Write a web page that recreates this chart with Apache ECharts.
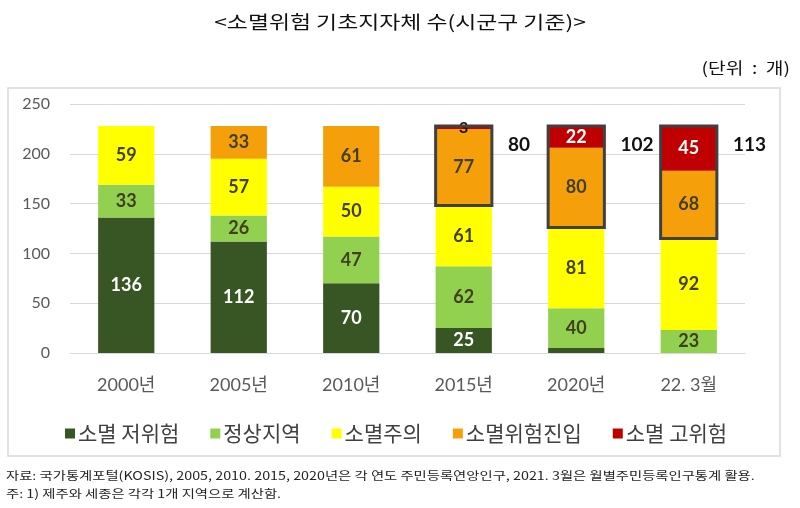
<!DOCTYPE html>
<html><head><meta charset="utf-8">
<script src="https://cdn.jsdelivr.net/npm/echarts@6/dist/echarts.min.js"></script>
<style>html,body{margin:0;padding:0;background:#fff}#c{width:800px;height:508px}</style>
</head><body><div id="c"></div>
<script>
const categories = ['2000년','2005년','2010년','2015년','2020년','22. 3월'];
const lowRisk = [136,112,70,25,5,0];
const normal = [33,26,47,62,40,23];
const caution = [59,57,50,61,81,92];
const riskEntry = [0,33,61,77,80,68];
const highRisk = [0,0,0,3,22,45];
const riskTotal = [null,null,null,80,102,113];
const seriesNames = ['소멸 저위험','정상지역','소멸주의','소멸위험진입','소멸 고위험'];
const colors = ['#375623','#92d050','#ffff00','#f5a00a','#c00000'];
const labelColors = ['#ffffff','#404020','#404020','#404020','#ffffff'];
const yTicks = {min:0,max:250,interval:50};
const titleText = '<소멸위험 기초지자체 수(시군구 기준)>';
const unitText = '(단위  :  개)';
const sourceText = '자료: 국가통계포털(KOSIS), 2005, 2010. 2015, 2020년은 각 연도 주민등록연앙인구, 2021. 3월은 월별주민등록인구통계 활용.';
const noteText = '주: 1) 제주와 세종은 각각 1개 지역으로 계산함.';

const FONT = "Lato, 'Noto Sans CJK KR', sans-serif";
const KFONT = "'Noto Sans CJK KR', sans-serif";
const seriesData = [lowRisk, normal, caution, riskEntry, highRisk];

const series = seriesData.map((d,i)=>({
  name: seriesNames[i], type:'bar', stack:'s', barWidth:'50%',
  itemStyle:{color:colors[i]},
  data: d.map(v=> v===0 ? null : v),
  label:{show:true, position:'inside', fontFamily:FONT, fontWeight:'bold', fontSize:18,
    color: labelColors[i],
    formatter: p => (i===0 && p.value<10) ? '' : String(p.value)}
}));
series[4].data = highRisk.map(v=> v===0 ? null : (v<10 ? {value:v, label:{color:'#111', fontSize:16}} : v));

const boxData = categories.map((c,i)=> riskTotal[i]==null ? null :
  [i, lowRisk[i]+normal[i]+caution[i], lowRisk[i]+normal[i]+caution[i]+riskEntry[i]+highRisk[i], riskTotal[i]]).filter(x=>x);

series.push({
  type:'custom', name:'box', z:10, silent:true,
  renderItem:(params, api)=>{
    const idx = api.value(0);
    const lo = api.coord([idx, api.value(1)]);
    const hi = api.coord([idx, api.value(2)]);
    const w = api.size([1,0])[0]*0.5;
    return {type:'group', children:[
      {type:'rect', shape:{x:lo[0]-w/2, y:hi[1], width:w, height:lo[1]-hi[1]},
       style:{fill:null, stroke:'#404040', lineWidth:3}},
      {type:'text', style:{text:String(api.value(3)), x:lo[0]+w/2+16, y:hi[1]+19,
        fill:'#111', font:"bold 19px "+FONT, textVerticalAlign:'middle'}}
    ]};
  },
  data: boxData
});

const chart = echarts.init(document.getElementById('c'));
chart.setOption({
  animation:false,
  color: colors,
  graphic:[
    {type:'text', x:400, y:22, scaleX:1.27, style:{text:titleText, x:0, y:0, align:'center', verticalAlign:'middle', font:"18px "+KFONT, fill:'#111'}},
    {type:'text', x:790, y:68, scaleX:1.2, style:{text:unitText, x:0, y:0, align:'right', verticalAlign:'middle', font:"16px "+KFONT, fill:'#111'}},
    {type:'rect', shape:{x:8, y:88, width:772, height:368}, style:{fill:null, stroke:'#d9d9d9', lineWidth:1.5}, z:-1},
    {type:'text', x:6, y:476, scaleX:1.245, style:{text:sourceText, x:0, y:0, verticalAlign:'middle', font:"11.5px "+KFONT, fill:'#222'}},
    {type:'text', x:6, y:494, scaleX:1.245, style:{text:noteText, x:0, y:0, verticalAlign:'middle', font:"11.5px "+KFONT, fill:'#222'}}
  ],
  legend:{data:seriesNames, top:418, left:60, itemWidth:10, itemHeight:10, itemGap:31,
    icon:'rect', textStyle:{fontFamily:KFONT, fontSize:21, color:'#404040', padding:[0,0,0,-2]}},
  grid:{left:70, right:55, top:104, bottom:155},
  xAxis:{type:'category', data:categories,
    axisLine:{lineStyle:{color:'#d9d9d9'}}, axisTick:{show:false},
    axisLabel:{fontFamily:FONT, fontSize:18, color:'#595959', margin:23}},
  yAxis:{type:'value', min:yTicks.min, max:yTicks.max, interval:yTicks.interval,
    axisLine:{show:false}, axisTick:{show:false},
    splitLine:{lineStyle:{color:'#d9d9d9'}},
    axisLabel:{fontFamily:FONT, fontSize:16, color:'#595959', margin:20}},
  series
});
</script></body></html>
